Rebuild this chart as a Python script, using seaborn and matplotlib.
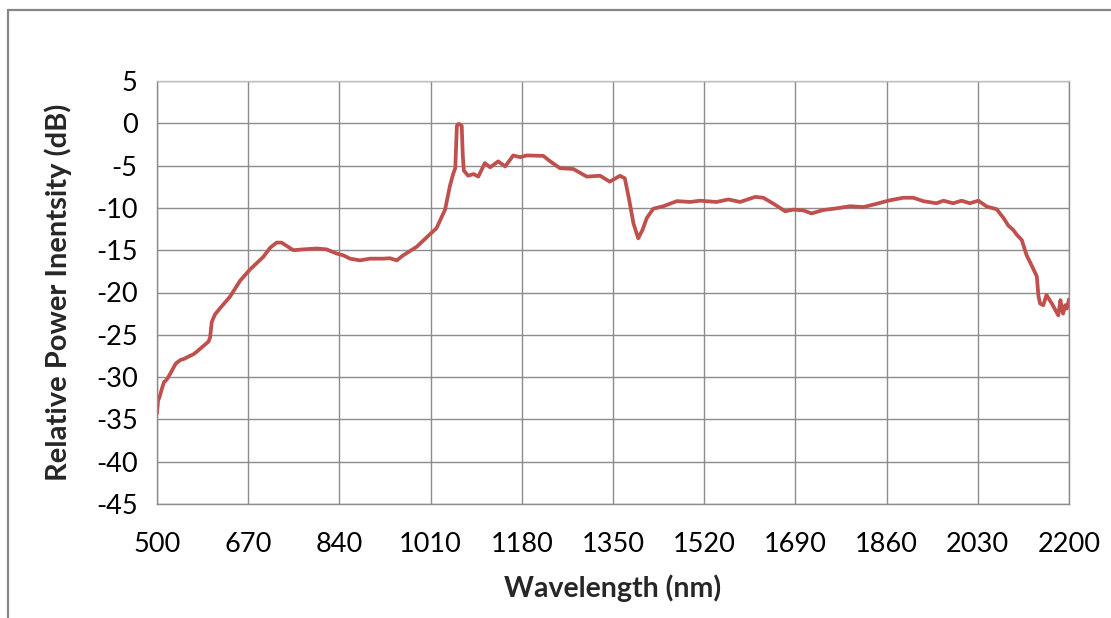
import matplotlib
matplotlib.use("Agg")
import matplotlib.pyplot as plt
import seaborn as sns
import pandas as pd
from matplotlib.lines import Line2D

wavelength = [500, 502, 505, 509, 513, 518, 522, 528, 535, 543, 552, 561, 568, 574, 585,
              596, 599, 602, 608, 617, 636, 655, 673, 698, 711, 723, 732, 742, 754, 773,
              798, 816, 835, 847, 860, 878, 897, 922, 934, 947, 959, 984, 1009, 1021,
              1034, 1037, 1046, 1052, 1056, 1059, 1061, 1064, 1068, 1070, 1072, 1080, 1090,
              1099, 1111, 1121, 1136, 1149, 1164, 1177, 1189, 1220, 1233, 1251, 1276, 1301,
              1326, 1344, 1363, 1372, 1380, 1388, 1397, 1405, 1413, 1425, 1444, 1469, 1494,
              1512, 1543, 1565, 1587, 1615, 1630, 1649, 1671, 1686, 1705, 1720, 1742, 1767,
              1792, 1817, 1842, 1866, 1891, 1910, 1928, 1953, 1966, 1984, 2000, 2015, 2031,
              2047, 2065, 2078, 2087, 2096, 2103, 2112, 2121, 2130, 2140, 2143, 2146, 2152,
              2158, 2163, 2168, 2174, 2180, 2184, 2187, 2189, 2193, 2196, 2200]
power_db = [-34.3, -32.8, -32.3, -31.4, -30.6, -30.3, -29.9, -29.2, -28.4, -28.0, -27.8, -27.5,
            -27.3, -27.0, -26.4, -25.8, -25.3, -23.5, -22.6, -21.9, -20.5, -18.6, -17.3, -15.8,
            -14.7, -14.1, -14.1, -14.5, -15.0, -14.9, -14.8, -14.9, -15.4, -15.6, -16.0, -16.2,
            -16.0, -16.0, -15.95, -16.2, -15.6, -14.6, -13.1, -12.4, -10.6, -10.2, -7.4, -6.0,
            -5.3, -0.3, -0.1, -0.1, -0.3, -3.8, -5.6, -6.2, -6.0, -6.3, -4.7, -5.2, -4.5, -5.1,
            -3.8, -4.0, -3.8, -3.85, -4.5, -5.3, -5.4, -6.3, -6.2, -6.9, -6.2, -6.5, -9.0,
            -11.8, -13.6, -12.6, -11.2, -10.1, -9.8, -9.2, -9.3, -9.15, -9.3, -9.0, -9.3,
            -8.7, -8.8, -9.5, -10.4, -10.2, -10.3, -10.65, -10.25, -10.05, -9.8, -9.9, -9.5,
            -9.1, -8.8, -8.8, -9.2, -9.45, -9.15, -9.45, -9.15, -9.45, -9.15, -9.85, -10.15,
            -11.2, -12.1, -12.6, -13.2, -13.8, -15.6, -16.75, -18.1, -20.4, -21.3, -21.5,
            -20.3, -20.8, -21.3, -22.0, -22.7, -20.9, -22.0, -22.5, -21.5, -21.9, -20.8]

x_ticks = [500, 670, 840, 1010, 1180, 1350, 1520, 1690, 1860, 2030, 2200]
y_ticks = [5, 0, -5, -10, -15, -20, -25, -30, -35, -40, -45]

df = pd.DataFrame({"Wavelength (nm)": wavelength, "Relative Power Inentsity (dB)": power_db})

sns.set_theme(style="white")
plt.rcParams["font.family"] = ["Lato", "DejaVu Sans"]

fig = plt.figure(figsize=(11.11, 6.18), dpi=100)
ax = fig.add_axes([157 / 1111, 1 - 504 / 618, (1069 - 157) / 1111, (504 - 81) / 618])

sns.lineplot(data=df, x="Wavelength (nm)", y="Relative Power Inentsity (dB)",
             ax=ax, color="#C0504D", linewidth=2.7, sort=False)

ax.set_xlim(500, 2200)
ax.set_ylim(-45, 5)
ax.set_xticks(x_ticks)
ax.set_yticks(y_ticks)
ax.set_xticklabels([str(t) for t in x_ticks])
ax.set_yticklabels([str(t) for t in y_ticks])
ax.grid(True, color="#8C8C8C", linewidth=1.0)
ax.set_axisbelow(True)
for s in ax.spines.values():
    s.set_color("#8C8C8C")
    s.set_linewidth(1.0)
ax.spines["top"].set_color("#BFBFBF")
ax.tick_params(axis="x", length=0, labelsize=19.5, colors="#000000", pad=20)
ax.tick_params(axis="y", length=0, labelsize=19.5, colors="#000000", pad=14)
ax.set_xlabel("Wavelength (nm)", fontsize=20.5, fontweight="bold", labelpad=13)
ax.set_ylabel("Relative Power Inentsity (dB)", fontsize=21, fontweight="bold", labelpad=17)

# outer chart frame (top and left edges visible)
fig.add_artist(Line2D([8 / 1111, 8 / 1111], [0, 1 - 10 / 618], transform=fig.transFigure,
                      color="#868686", linewidth=1.6))
fig.add_artist(Line2D([8 / 1111, 1], [1 - 10 / 618, 1 - 10 / 618], transform=fig.transFigure,
                      color="#868686", linewidth=1.6))

fig.savefig("out.png", dpi=100)
